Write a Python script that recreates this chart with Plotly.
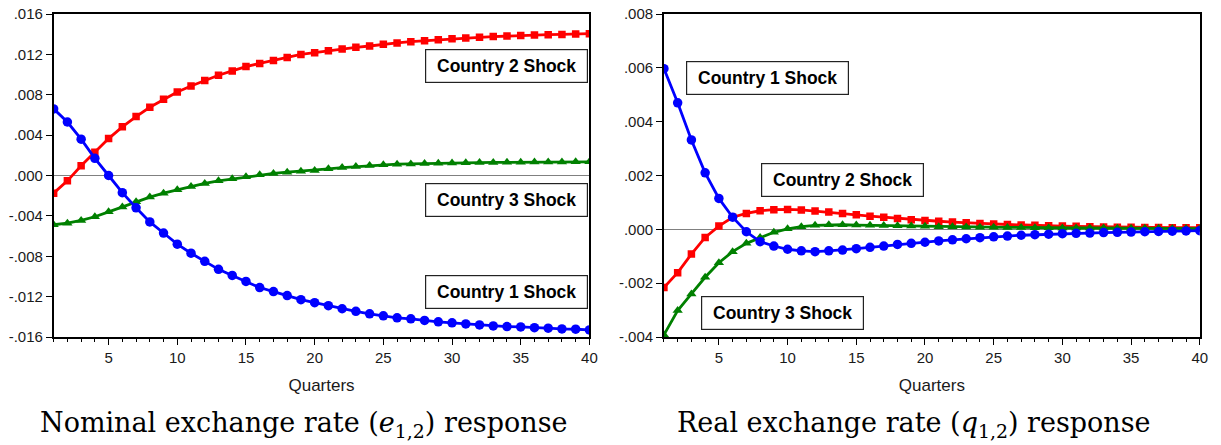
import plotly.graph_objects as go

quarters = list(range(1, 41))

# Nominal exchange rate (e_{1,2}) response
nom_c1 = [0.0066, 0.0053, 0.0036, 0.0017, 0.0000, -0.0017, -0.0032, -0.0046, -0.0057, -0.0068,
          -0.0077, -0.0085, -0.0093, -0.0099, -0.0105, -0.0111, -0.0115, -0.0119, -0.0123, -0.0126,
          -0.0129, -0.0132, -0.01346, -0.0137, -0.0139, -0.0141, -0.0142, -0.01436, -0.0145, -0.0146,
          -0.0147, -0.0148, -0.0149, -0.01497, -0.0150, -0.01508, -0.01513, -0.0152, -0.01523, -0.0153]
nom_c2 = [-0.00175, -0.00053, 0.00096, 0.00231, 0.00366, 0.00482, 0.00584, 0.00676, 0.00755, 0.00828,
          0.00887, 0.0094, 0.00993, 0.01036, 0.01079, 0.0111, 0.0114, 0.0117, 0.0120, 0.01217,
          0.01237, 0.01254, 0.0127, 0.01283, 0.0130, 0.01313, 0.01326, 0.01336, 0.01346, 0.01356,
          0.01363, 0.01369, 0.01376, 0.01382, 0.01386, 0.01392, 0.01395, 0.01398, 0.01402, 0.01405]
nom_c3 = [-0.00488, -0.00472, -0.00445, -0.00409, -0.0036, -0.00313, -0.00261, -0.00214, -0.00175, -0.00142,
          -0.00109, -0.00079, -0.00053, -0.00033, -0.00013, 0.00007, 0.0002, 0.00033, 0.00043, 0.0005,
          0.00066, 0.00079, 0.00089, 0.00099, 0.00106, 0.00112, 0.00115, 0.00119, 0.00122, 0.00125,
          0.00127, 0.00128, 0.0013, 0.00131, 0.00132, 0.00133, 0.00133, 0.00134, 0.00135, 0.00135]

# Real exchange rate (q_{1,2}) response
real_c1 = [0.00597, 0.0047, 0.00332, 0.0021, 0.00115, 0.00045, -0.00009, -0.00046, -0.00062, -0.00074,
           -0.0008, -0.00083, -0.0008, -0.00077, -0.00072, -0.00067, -0.00062, -0.00056, -0.00052, -0.00048,
           -0.00043, -0.00039, -0.00035, -0.00031, -0.00028, -0.00025, -0.00022, -0.0002, -0.00018, -0.00016,
           -0.00015, -0.00014, -0.00012, -0.00011, -0.0001, -0.00009, -0.00008, -0.00007, -0.00006, -0.00005]
real_c2 = [-0.00216, -0.00161, -0.00092, -0.0003, 0.00012, 0.00045, 0.00059, 0.00069, 0.00073, 0.00074,
           0.00072, 0.00068, 0.00064, 0.00059, 0.00054, 0.00049, 0.00045, 0.0004, 0.00036, 0.00033,
           0.0003, 0.00027, 0.00024, 0.00022, 0.0002, 0.00018, 0.00016, 0.00015, 0.00013, 0.00012,
           0.00011, 0.0001, 0.00009, 0.00008, 0.00008, 0.00007, 0.00007, 0.00006, 0.00006, 0.00006]
real_c3 = [-0.00392, -0.00302, -0.0024, -0.00178, -0.00124, -0.00083, -0.00052, -0.0003, -0.00011, 0.00002,
           0.0001, 0.00015, 0.00017, 0.00017, 0.00016, 0.00015, 0.00014, 0.00013, 0.00012, 0.00011,
           0.0001, 0.0001, 0.00009, 0.00008, 0.00008, 0.00007, 0.00007, 0.00006, 0.00006, 0.00005,
           0.00005, 0.00005, 0.00005, 0.00004, 0.00004, 0.00004, 0.00004, 0.00003, 0.00003, 0.00003]

x_ticks = [5, 10, 15, 20, 25, 30, 35, 40]
y1_vals = [0.016, 0.012, 0.008, 0.004, 0.0, -0.004, -0.008, -0.012, -0.016]
y1_text = [".016", ".012", ".008", ".004", ".000", "-.004", "-.008", "-.012", "-.016"]
y2_vals = [0.008, 0.006, 0.004, 0.002, 0.0, -0.002, -0.004]
y2_text = [".008", ".006", ".004", ".002", ".000", "-.002", "-.004"]

BLUE, RED, GREEN = "#0000FF", "#FF0000", "#008000"

fig = go.Figure()

def add_series(y, color, symbol, size, xa, ya):
    fig.add_trace(go.Scatter(
        x=quarters, y=y, mode="lines+markers", xaxis=xa, yaxis=ya,
        line=dict(color=color, width=2.8),
        marker=dict(color=color, symbol=symbol, size=size, line=dict(width=0)),
        showlegend=False, hoverinfo="skip"))

add_series(nom_c2, RED, "square", 7.5, "x", "y")
add_series(nom_c3, GREEN, "triangle-up", 9, "x", "y")
add_series(nom_c1, BLUE, "circle", 9.5, "x", "y")
add_series(real_c2, RED, "square", 7.5, "x2", "y2")
add_series(real_c3, GREEN, "triangle-up", 9, "x2", "y2")
add_series(real_c1, BLUE, "circle", 9.5, "x2", "y2")

W, H = 1221, 445
tick_font = dict(family="Liberation Sans, Arial, Helvetica, sans-serif", size=15, color="#1a1a1a")
title_font = dict(family="Liberation Sans, Arial, Helvetica, sans-serif", size=17, color="#1a1a1a")

common_x = dict(range=[1, 40], tickvals=x_ticks, ticks="outside", ticklen=6, tickwidth=1.3,
                tickcolor="black", showline=True, linecolor="black", linewidth=1.6, mirror=True,
                showgrid=False, zeroline=False, tickfont=tick_font,
                minor=dict(dtick=1, tick0=0, ticks="outside", ticklen=3.5, tickwidth=1.1,
                           tickcolor="black", showgrid=False),
                title=dict(text="Quarters", font=title_font, standoff=14))
common_y = dict(ticks="outside", ticklen=6, tickwidth=1.3, tickcolor="black", showline=True,
                linecolor="black", linewidth=1.6, mirror=True, showgrid=False,
                zeroline=True, zerolinecolor="#808080", zerolinewidth=1, tickfont=tick_font)

fig.update_layout(
    width=W, height=H, plot_bgcolor="white", paper_bgcolor="white",
    margin=dict(l=0, r=0, t=14, b=108),
    xaxis=dict(domain=[54 / W, 593.3 / W], anchor="y", **common_x),
    xaxis2=dict(domain=[668.3 / W, 1207.7 / W], anchor="y2", **common_x),
    yaxis=dict(range=[-0.016, 0.016], tickvals=y1_vals, ticktext=y1_text, anchor="x", **common_y),
    yaxis2=dict(range=[-0.004, 0.008], tickvals=y2_vals, ticktext=y2_text, anchor="x2", **common_y),
)

box_font = dict(family="Liberation Sans, Arial, Helvetica, sans-serif", size=17.5, color="black")
labels = [
    ("Country 2 Shock", "x", "y", 0.846, 0.840),
    ("Country 3 Shock", "x", "y", 0.846, 0.425),
    ("Country 1 Shock", "x", "y", 0.846, 0.138),
    ("Country 1 Shock", "x2", "y2", 0.194, 0.801),
    ("Country 2 Shock", "x2", "y2", 0.333, 0.486),
    ("Country 3 Shock", "x2", "y2", 0.221, 0.073),
]
for text, xa, ya, fx, fy in labels:
    fig.add_annotation(text="<b>%s</b>" % text, xref=xa + " domain", yref=ya + " domain",
                       x=fx, y=fy, xanchor="center", yanchor="middle", showarrow=False,
                       font=box_font, bgcolor="white", bordercolor="#222", borderwidth=1.2,
                       borderpad=1, width=159, height=30)

plot_h = H - 14 - 108
cap_y = (337 - 424) / plot_h
cap_font = dict(family="DejaVu Serif, Liberation Serif, serif", size=27, color="black")
fig.add_annotation(text="Nominal exchange rate (<i>e</i><sub>1,2</sub>) response",
                   xref="paper", yref="paper", x=305 / W, y=cap_y,
                   xanchor="center", yanchor="middle", showarrow=False, font=cap_font)
fig.add_annotation(text="Real exchange rate (<i>q</i><sub>1,2</sub>) response",
                   xref="paper", yref="paper", x=920 / W, y=cap_y,
                   xanchor="center", yanchor="middle", showarrow=False, font=cap_font)

fig.write_html("out.html", config={"displayModeBar": False},
               post_script="document.body.style.margin='0';")
